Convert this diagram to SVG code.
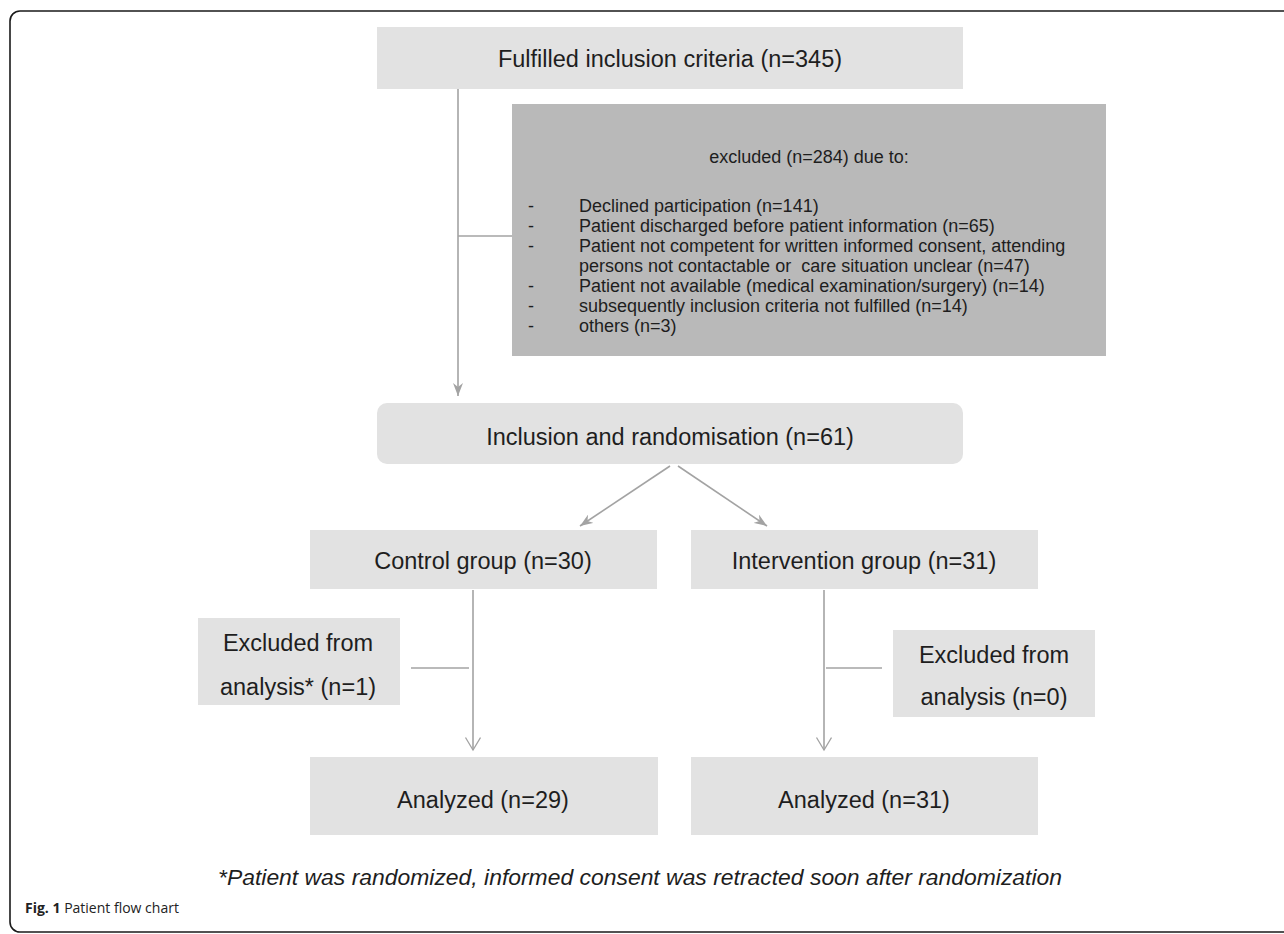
<svg xmlns="http://www.w3.org/2000/svg" width="1284" height="934" viewBox="0 0 1284 934">
<defs>
<style>
.box{fill:#e2e2e2}
.dark{fill:#b9b9b9}
.t{font-family:"Liberation Sans",Arial,Helvetica,sans-serif;font-size:23.5px;fill:#1e1e1e}
.s{font-family:"Liberation Sans",Arial,Helvetica,sans-serif;font-size:18px;fill:#1e1e1e}
.ln{stroke:#a3a3a3;stroke-width:1.6;fill:none}
</style>
<marker id="af" markerWidth="14" markerHeight="10" refX="13" refY="5" orient="auto" markerUnits="userSpaceOnUse"><path d="M0,0 L13,5 L0,10 L4,5 z" fill="#a3a3a3"/></marker>
<marker id="av" markerWidth="16" markerHeight="18" refX="13" refY="8" orient="auto" markerUnits="userSpaceOnUse"><path d="M0.5,0.5 L13,8 L0.5,15.5" fill="none" stroke="#a3a3a3" stroke-width="1.3"/></marker>
</defs>
<rect x="0" y="0" width="1284" height="934" fill="#ffffff"/>
<rect id="frame" x="10" y="11" width="1300" height="921" rx="10" ry="10" fill="none" stroke="#1a1a1a" stroke-width="1.6"/>

<g id="connectors">
<line class="ln" x1="458" y1="89" x2="458" y2="396" marker-end="url(#af)"/>
<line class="ln" x1="458" y1="236" x2="512" y2="236"/>
<line class="ln" x1="670" y1="466" x2="580" y2="526" marker-end="url(#af)"/>
<line class="ln" x1="678" y1="466" x2="767" y2="526" marker-end="url(#af)"/>
<line class="ln" x1="473" y1="590" x2="473" y2="750" marker-end="url(#av)"/>
<line class="ln" x1="411" y1="668" x2="469" y2="668"/>
<line class="ln" x1="824" y1="590" x2="824" y2="750" marker-end="url(#av)"/>
<line class="ln" x1="826" y1="668" x2="882" y2="668"/>
</g>

<g id="n-fulfilled">
<rect class="box" x="377" y="27" width="586" height="62"/>
<text class="t" x="670" y="67" text-anchor="middle">Fulfilled inclusion criteria (n=345)</text>
</g>

<g id="n-excluded">
<rect class="dark" x="512" y="104" width="594" height="252"/>
<text class="s" x="809" y="163" text-anchor="middle">excluded (n=284) due to:</text>
<text class="s" x="528" y="212">-</text><text class="s" x="579" y="212">Declined participation (n=141)</text>
<text class="s" x="528" y="232">-</text><text class="s" x="579" y="232">Patient discharged before patient information (n=65)</text>
<text class="s" x="528" y="252">-</text><text class="s" x="579" y="252">Patient not competent for written informed consent, attending</text>
<text class="s" x="579" y="272" xml:space="preserve">persons not contactable or  care situation unclear (n=47)</text>
<text class="s" x="528" y="292">-</text><text class="s" x="579" y="292">Patient not available (medical examination/surgery) (n=14)</text>
<text class="s" x="528" y="312">-</text><text class="s" x="579" y="312">subsequently inclusion criteria not fulfilled (n=14)</text>
<text class="s" x="528" y="332">-</text><text class="s" x="579" y="332">others (n=3)</text>
</g>

<g id="n-inclusion">
<rect class="box" x="377" y="403" width="586" height="61" rx="10" ry="10"/>
<text class="t" x="670" y="445" text-anchor="middle">Inclusion and randomisation (n=61)</text>
</g>

<g id="n-control">
<rect class="box" x="310" y="530" width="347" height="59"/>
<text class="t" x="483" y="569" text-anchor="middle">Control group (n=30)</text>
</g>

<g id="n-intervention">
<rect class="box" x="691" y="530" width="347" height="59"/>
<text class="t" x="864" y="569" text-anchor="middle">Intervention group (n=31)</text>
</g>

<g id="n-excl-left">
<rect class="box" x="198" y="618" width="202" height="87"/>
<text class="t" x="298" y="651" text-anchor="middle">Excluded from</text>
<text class="t" x="298" y="695" text-anchor="middle">analysis* (n=1)</text>
</g>

<g id="n-excl-right">
<rect class="box" x="893" y="630" width="202" height="87"/>
<text class="t" x="994" y="663" text-anchor="middle">Excluded from</text>
<text class="t" x="994" y="705" text-anchor="middle">analysis (n=0)</text>
</g>

<g id="n-analyzed-left">
<rect class="box" x="310" y="757" width="348" height="78"/>
<text class="t" x="483" y="808" text-anchor="middle">Analyzed (n=29)</text>
</g>

<g id="n-analyzed-right">
<rect class="box" x="691" y="757" width="347" height="78"/>
<text class="t" x="864" y="808" text-anchor="middle">Analyzed (n=31)</text>
</g>

<text x="640" y="885" text-anchor="middle" font-family="'Liberation Sans',Arial,sans-serif" font-style="italic" font-size="22" fill="#1e1e1e" textLength="844" lengthAdjust="spacingAndGlyphs">*Patient was randomized, informed consent was retracted soon after randomization</text>
<text x="25" y="913" font-family="'Open Sans','Noto Sans',sans-serif" font-size="14" fill="#222"><tspan font-weight="bold">Fig. 1</tspan> Patient flow chart</text>
</svg>
